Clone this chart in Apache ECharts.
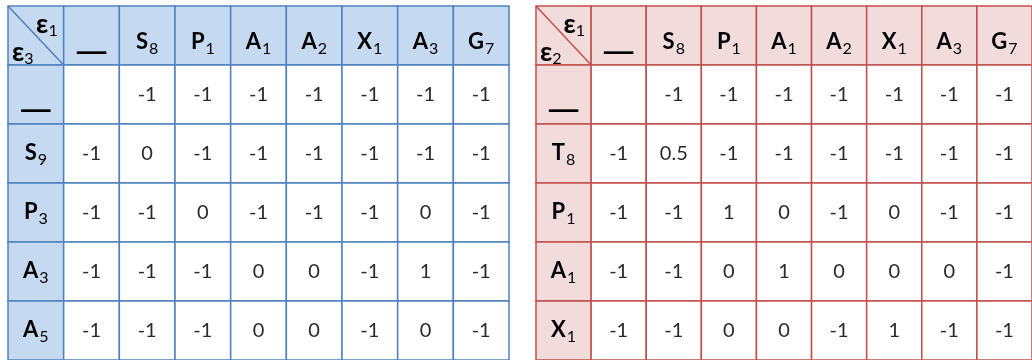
<!DOCTYPE html>
<html>
<head>
<meta charset="utf-8">
<script src="https://cdn.jsdelivr.net/npm/echarts@6/dist/echarts.min.js"></script>
<style>
  html, body { margin: 0; padding: 0; background: #fff; }
  #chart { width: 1032px; height: 360px; }
</style>
</head>
<body>
<div id="chart"></div>
<script>
// header labels: first char is the letter, the rest is the subscript
const colHeads = ['—', 'S8', 'P1', 'A1', 'A2', 'X1', 'A3', 'G7'];
const leftRowHeads = ['—', 'S9', 'P3', 'A3', 'A5'];
const rightRowHeads = ['—', 'T8', 'P1', 'A1', 'X1'];
const leftCorner = ['ε1', 'ε3'];
const rightCorner = ['ε1', 'ε2'];
const leftValues = [
  ['', -1, -1, -1, -1, -1, -1, -1],
  [-1, 0, -1, -1, -1, -1, -1, -1],
  [-1, -1, 0, -1, -1, -1, 0, -1],
  [-1, -1, -1, 0, 0, -1, 1, -1],
  [-1, -1, -1, 0, 0, -1, 0, -1]
];
const rightValues = [
  ['', -1, -1, -1, -1, -1, -1, -1],
  [-1, 0.5, -1, -1, -1, -1, -1, -1],
  [-1, -1, 1, 0, -1, 0, -1, -1],
  [-1, -1, 0, 1, 0, 0, 0, -1],
  [-1, -1, 0, 0, -1, 1, -1, -1]
];

const FONT = 'Lato, "Noto Sans", sans-serif';
const blue = { line: '#4F81BD', fill: '#C5D9F1' };
const red = { line: '#C0504D', fill: '#F2DCDB' };

const rich = {
  b: { fontFamily: FONT, fontSize: 22, fontWeight: 'bold', fill: '#000', lineHeight: 30 },
  s: { fontFamily: FONT, fontSize: 16, fill: '#000', lineHeight: 30, verticalAlign: 'bottom', padding: [0, 0, 0, 1] },
  e: { fontFamily: FONT, fontSize: 27, fontWeight: 'bold', fill: '#000', lineHeight: 30 },
  es: { fontFamily: FONT, fontSize: 16, fill: '#000', lineHeight: 30, verticalAlign: 'bottom' }
};

function subText(label, big, small) {
  return '{' + big + '|' + label[0] + '}{' + small + '|' + label.slice(1) + '}';
}

function buildCells(rowHeads, values, corner) {
  const cells = [];
  for (let r = 0; r <= rowHeads.length; r++) {
    for (let c = 0; c <= colHeads.length; c++) {
      if (r === 0 && c === 0) cells.push({ c, r, kind: 'corner', text: corner });
      else if (r === 0) cells.push({ c, r, kind: 'colhead', text: colHeads[c - 1] });
      else if (c === 0) cells.push({ c, r, kind: 'rowhead', text: rowHeads[r - 1] });
      else cells.push({ c, r, kind: 'body', text: String(values[r - 1][c - 1]) });
    }
  }
  return cells;
}

function makeRender(cells, theme) {
  return function (params, api) {
    const d = cells[params.dataIndex];
    const p = api.coord([api.value(0), api.value(1)]);
    const s = api.size([1, 1]);
    const x = p[0] - s[0] / 2, y = p[1] - s[1] / 2;
    const children = [{
      type: 'rect',
      shape: { x: x, y: y, width: s[0], height: s[1] },
      style: { fill: d.kind === 'body' ? '#fff' : theme.fill, stroke: theme.line, lineWidth: 1.5 }
    }];
    if (d.kind === 'corner') {
      children.push({
        type: 'line',
        shape: { x1: x, y1: y, x2: x + s[0], y2: y + s[1] },
        style: { stroke: theme.line, lineWidth: 1.5 }
      });
      children.push({
        type: 'text', x: x + s[0] - 6, y: y + 18,
        style: { text: subText(d.text[0], 'e', 'es'), rich: rich, align: 'right', verticalAlign: 'middle' }
      });
      children.push({
        type: 'text', x: x + 4, y: y + 46,
        style: { text: subText(d.text[1], 'e', 'es'), rich: rich, align: 'left', verticalAlign: 'middle' }
      });
    } else if (d.kind === 'body') {
      children.push({
        type: 'text', x: p[0], y: p[1],
        style: { text: d.text, fontFamily: FONT, fontSize: 20, fill: '#2a2a2a', align: 'center', verticalAlign: 'middle' }
      });
    } else if (d.text === '—') {
      children.push({
        type: 'text', x: p[0], y: p[1] + (d.kind === 'colhead' ? 17 : 16), scaleX: 1.45,
        style: { text: '—', fontFamily: FONT, fontSize: 30, fontWeight: 'bold', fill: '#000', align: 'center', verticalAlign: 'middle' }
      });
    } else {
      children.push({
        type: 'text', x: p[0], y: p[1] + (d.kind === 'colhead' ? 6 : -1),
        style: { text: subText(d.text, 'b', 's'), rich: rich, align: 'center', verticalAlign: 'middle' }
      });
    }
    return { type: 'group', children: children };
  };
}

const leftCells = buildCells(leftRowHeads, leftValues, leftCorner);
const rightCells = buildCells(rightRowHeads, rightValues, rightCorner);
const colIdx = Array.from({ length: colHeads.length + 1 }, (_, i) => i);
const rowIdx = Array.from({ length: leftRowHeads.length + 1 }, (_, i) => i);

const chart = echarts.init(document.getElementById('chart'));
chart.setOption({
  animation: false,
  grid: [
    { left: 8, top: 6, width: 501, height: 354 },
    { left: 536, top: 6, width: 502, height: 354 }
  ],
  xAxis: [
    { type: 'category', data: colIdx, gridIndex: 0, show: false },
    { type: 'category', data: colIdx, gridIndex: 1, show: false }
  ],
  yAxis: [
    { type: 'category', data: rowIdx, gridIndex: 0, inverse: true, show: false },
    { type: 'category', data: rowIdx, gridIndex: 1, inverse: true, show: false }
  ],
  series: [
    {
      type: 'custom', xAxisIndex: 0, yAxisIndex: 0, clip: false,
      data: leftCells.map(d => [d.c, d.r]),
      renderItem: makeRender(leftCells, blue)
    },
    {
      type: 'custom', xAxisIndex: 1, yAxisIndex: 1, clip: false,
      data: rightCells.map(d => [d.c, d.r]),
      renderItem: makeRender(rightCells, red)
    }
  ]
});
window.addEventListener('resize', () => chart.resize());
</script>
</body>
</html>
